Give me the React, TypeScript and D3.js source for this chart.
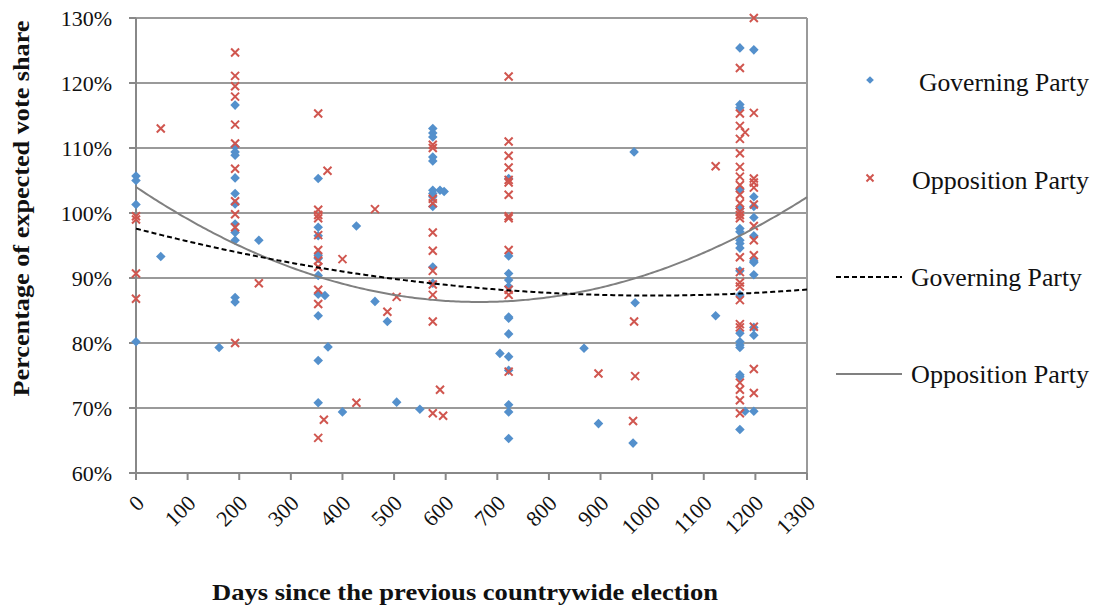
import React from "react";
import * as d3 from "d3";

// ---- data (days since previous election, % of expected vote share) ----
const governingParty: [number, number][] = [
  [0, 105.7], [0, 105.0], [0, 101.3], [0, 80.2],
  [48, 93.3], [161, 79.3],
  [192, 116.6], [192, 110.2], [192, 109.4], [192, 108.9], [192, 105.4], [192, 103.0],
  [192, 101.4], [192, 98.3], [192, 97.0], [192, 95.8], [192, 87.0], [192, 86.3],
  [238, 95.8],
  [353, 105.3], [353, 97.8], [353, 96.5], [353, 93.5], [353, 93.0], [353, 90.4],
  [353, 87.5], [353, 84.2], [353, 77.3], [353, 70.8],
  [366, 87.3], [372, 79.4], [400, 69.4], [427, 98.0], [463, 86.4], [487, 83.3],
  [505, 70.9], [550, 69.8],
  [575, 113.0], [575, 112.3], [575, 111.7], [575, 108.6], [575, 108.0], [575, 103.5],
  [575, 103.0], [575, 102.5], [575, 101.0], [575, 91.7], [575, 89.2],
  [589, 103.5], [597, 103.3],
  [705, 78.4],
  [722, 105.3], [722, 93.4], [722, 90.7], [722, 89.7], [722, 88.7], [722, 84.0],
  [722, 83.8], [722, 81.4], [722, 77.9], [722, 75.8], [722, 70.5], [722, 69.4], [722, 65.3],
  [868, 79.2], [896, 67.6], [965, 109.4], [967, 86.2], [963, 64.6], [1123, 84.2],
  [1170, 125.4], [1170, 116.7], [1170, 116.2], [1170, 103.6], [1170, 100.7], [1170, 97.6],
  [1170, 97.1], [1170, 95.8], [1170, 95.3], [1170, 94.6], [1170, 91.1], [1170, 87.4],
  [1170, 81.5], [1170, 80.2], [1170, 79.7], [1170, 79.3], [1170, 75.1], [1170, 74.8], [1170, 66.7],
  [1180, 69.5],
  [1197, 125.1], [1197, 102.5], [1197, 101.0], [1197, 99.3], [1197, 96.5], [1197, 92.6],
  [1197, 92.4], [1197, 90.5], [1197, 82.4], [1197, 81.2], [1197, 69.5],
];

const oppositionParty: [number, number][] = [
  [0, 99.5], [0, 99.0], [0, 90.7], [0, 86.8],
  [48, 113.0],
  [192, 124.7], [192, 121.1], [192, 119.5], [192, 117.9], [192, 113.6], [192, 110.7],
  [192, 106.8], [192, 101.8], [192, 99.8], [192, 97.8], [192, 80.0],
  [238, 89.2],
  [353, 115.3], [353, 100.5], [353, 99.7], [353, 99.2], [353, 96.6], [353, 94.3],
  [353, 92.7], [353, 91.7], [353, 88.2], [353, 86.0], [353, 65.4],
  [364, 68.2], [371, 106.5], [400, 92.9], [427, 70.8], [463, 100.6], [487, 84.8], [505, 87.1],
  [575, 110.5], [575, 110.0], [575, 102.2], [575, 101.5], [575, 97.0], [575, 94.2],
  [575, 91.1], [575, 89.0], [575, 87.4], [575, 83.3], [575, 69.2],
  [589, 72.8], [595, 68.8],
  [722, 121.0], [722, 111.0], [722, 108.8], [722, 107.0], [722, 105.1], [722, 104.7],
  [722, 102.8], [722, 99.5], [722, 99.2], [722, 94.3], [722, 88.2], [722, 87.4], [722, 75.6],
  [896, 75.3], [965, 83.3], [967, 74.9], [963, 68.0], [1123, 107.2],
  [1170, 122.3], [1170, 115.3], [1170, 113.4], [1170, 111.4], [1170, 109.2], [1170, 107.1],
  [1170, 105.6], [1170, 104.3], [1170, 102.8], [1170, 101.5], [1170, 100.2], [1170, 99.7],
  [1170, 99.2], [1170, 93.2], [1170, 90.9], [1170, 89.3], [1170, 88.7], [1170, 86.6],
  [1170, 82.9], [1170, 82.4], [1170, 73.9], [1170, 72.8], [1170, 71.2], [1170, 69.2],
  [1180, 112.4],
  [1197, 130.0], [1197, 115.4], [1197, 105.3], [1197, 104.7], [1197, 103.9], [1197, 101.3],
  [1197, 98.0], [1197, 95.8], [1197, 93.5], [1197, 82.5], [1197, 76.0], [1197, 72.3],
];

// polynomial (order 2) trendline coefficients: c0 + c1*x + c2*x^2
const governingTrend = [97.6, -0.0206, 1.03e-5];
const oppositionTrend = [104.0, -0.0532, 4.0e-5];

const xTicks = [0, 100, 200, 300, 400, 500, 600, 700, 800, 900, 1000, 1100, 1200, 1300];
const yTicks = [60, 70, 80, 90, 100, 110, 120, 130];

const legendLabels = ["Governing Party", "Opposition Party", "Governing Party", "Opposition Party"];

// ---- layout ----
const W = 1096, H = 611;
const left = 136, top = 18, right = 807, bottom = 473;
const BLUE = "#5490CC";
const RED = "#D0564F";
const GRID = "#9A9A9A";
const FONT = "Liberation Serif, serif";

export default function App() {
  const x = d3.scaleLinear().domain([0, 1300]).range([left, right]);
  const y = d3.scaleLinear().domain([60, 130]).range([bottom, top]);

  const diamond = d3.symbol(d3.symbolSquare, 46)()!;
  const cross = "M-4,-4L4,4M-4,4L4,-4";

  const trendDays = d3.range(0, 1301, 5);
  const poly = (c: number[]) => (t: number) => c[0] + c[1] * t + c[2] * t * t;
  const govLine = d3.line<number>().x((t) => x(t)).y((t) => y(poly(governingTrend)(t)))(trendDays)!;
  const oppLine = d3.line<number>().x((t) => x(t)).y((t) => y(poly(oppositionTrend)(t)))(trendDays)!;

  return (
    <svg width={W} height={H} style={{ position: "absolute", left: 0, top: 0, background: "#fff", fontFamily: FONT }}>
      {/* gridlines */}
      {yTicks.map((t) => (
        <line key={"g" + t} x1={left} x2={right} y1={y(t)} y2={y(t)} stroke={GRID} strokeWidth={2} />
      ))}
      {/* right border */}
      <line x1={right} x2={right} y1={top} y2={bottom} stroke={GRID} strokeWidth={2} />
      {/* axes */}
      <line x1={left} x2={left} y1={top} y2={bottom} stroke="#888" strokeWidth={2} />
      <line x1={left} x2={right} y1={bottom} y2={bottom} stroke="#888" strokeWidth={2} />
      {yTicks.map((t) => (
        <line key={"yt" + t} x1={left - 7} x2={left} y1={y(t)} y2={y(t)} stroke="#888" strokeWidth={2} />
      ))}
      {xTicks.map((t) => (
        <line key={"xt" + t} x1={x(t)} x2={x(t)} y1={bottom} y2={bottom + 7} stroke="#888" strokeWidth={2} />
      ))}
      {/* y tick labels */}
      {yTicks.map((t) => (
        <text key={"yl" + t} x={left - 24} y={y(t)} dy="0.35em" textAnchor="end" fontSize={22} fill="#111">
          {t}%
        </text>
      ))}
      {/* x tick labels */}
      {xTicks.map((t) => (
        <text key={"xl" + t} transform={`translate(${x(t) + 4},${bottom + 26}) rotate(-45)`}
          textAnchor="end" dy="0.35em" fontSize={22} fill="#111">
          {t}
        </text>
      ))}
      {/* axis titles */}
      <text transform={`translate(29,${(top + 397 + 20) / 2 - 9}) rotate(-90)`} textAnchor="middle"
        fontSize={23} fontWeight="bold" fill="#111" textLength={376} lengthAdjust="spacingAndGlyphs">
        Percentage of expected vote share
      </text>
      <text x={465} y={600} textAnchor="middle" fontSize={23} fontWeight="bold" fill="#111"
        textLength={506} lengthAdjust="spacingAndGlyphs">
        Days since the previous countrywide election
      </text>

      {/* points */}
      <g>
        {governingParty.map(([d, v], i) => (
          <path key={"gp" + i} d={diamond} transform={`translate(${x(d)},${y(v)}) rotate(45)`} fill={BLUE} />
        ))}
      </g>
      <g>
        {oppositionParty.map(([d, v], i) => (
          <path key={"op" + i} d={cross} transform={`translate(${x(d)},${y(v)})`} stroke={RED}
            strokeWidth={2} fill="none" />
        ))}
      </g>

      {/* trendlines */}
      <path d={oppLine} fill="none" stroke="#808080" strokeWidth={2} />
      <path d={govLine} fill="none" stroke="#000" strokeWidth={2} strokeDasharray="5,3" />

      {/* legend */}
      <path d={d3.symbol(d3.symbolSquare, 30)()!} transform="translate(870,80) rotate(45)" fill={BLUE} />
      <text x={919} y={82} dy="0.35em" fontSize={25} fill="#111" textLength={170}
        lengthAdjust="spacingAndGlyphs">{legendLabels[0]}</text>
      <path d="M-3.5,-3.5L3.5,3.5M-3.5,3.5L3.5,-3.5" transform="translate(870,178)" stroke={RED}
        strokeWidth={2} fill="none" />
      <text x={912} y={180} dy="0.35em" fontSize={25} fill="#111" textLength={177}
        lengthAdjust="spacingAndGlyphs">{legendLabels[1]}</text>
      <line x1={836} x2={902} y1={277} y2={277} stroke="#000" strokeWidth={2} strokeDasharray="5,3" />
      <text x={911} y={277} dy="0.35em" fontSize={25} fill="#111" textLength={171}
        lengthAdjust="spacingAndGlyphs">{legendLabels[2]}</text>
      <line x1={836} x2={902} y1={374} y2={374} stroke="#808080" strokeWidth={2} />
      <text x={911} y={374} dy="0.35em" fontSize={25} fill="#111" textLength={178}
        lengthAdjust="spacingAndGlyphs">{legendLabels[3]}</text>
    </svg>
  );
}
